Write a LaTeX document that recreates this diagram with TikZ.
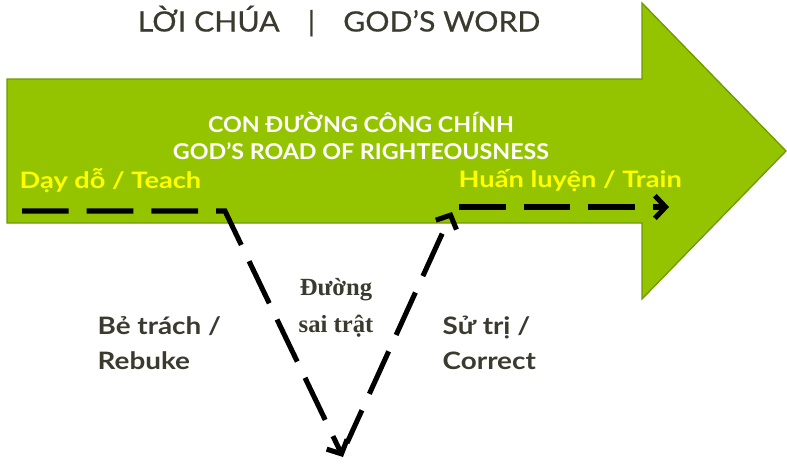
\documentclass[tikz,border=0pt]{standalone}
\usepackage{fontspec}
\setmainfont{Lato}
\newfontfamily\serifb{Liberation Serif}
\newfontfamily\titlefont[FakeStretch=1.08,FakeBold=0.6]{Lato}
\newfontfamily\roadfont[FakeStretch=1.07]{Lato}
\newfontfamily\stagefont[FakeStretch=1.2]{Lato}
\newfontfamily\labelfont[FakeStretch=1.16]{Lato}
\usetikzlibrary{arrows.meta}
\definecolor{leaf}{HTML}{94C400}
\definecolor{leafedge}{HTML}{6E9A00}
\definecolor{ink}{HTML}{3B3A2E}
\definecolor{hl}{HTML}{FFFF00}
\tikzset{
  dashline/.style={line width=3.8pt, dash pattern=on 35pt off 13.5pt},
  tip/.style={-{Straight Barb[length=8pt,width=17pt]}},
  labeltxt/.style={font=\labelfont\bfseries\fontsize{18}{26}\selectfont, text=ink, align=left, anchor=west},
  roadtxt/.style={font=\roadfont\bfseries\fontsize{16.3}{20.5}\selectfont, text=white, align=center},
  stagetxt/.style={font=\stagefont\bfseries\fontsize{17}{21}\selectfont, text=hl, anchor=west}
}
\begin{document}
\begin{tikzpicture}[x=0.75pt,y=-0.75pt]
\useasboundingbox (0,0) rectangle (787,464);
% big arrow
\draw[fill=leaf, draw=leafedge, line width=1pt]
  (7,79) -- (642,79) -- (642,3) -- (786,151) -- (642,299) -- (642,223) -- (7,223) -- cycle;
% title
\node[font=\titlefont\fontsize{21}{25}\selectfont, text=ink] (title) at (339,21) {LỜI CHÚA\quad|\quad GOD’S WORD};
% road text
\node[roadtxt] (road) at (361,136) {CON ĐƯỜNG CÔNG CHÍNH\\GOD’S ROAD OF RIGHTEOUSNESS};
\node[stagetxt] (teach) at (15,181) {Dạy dỗ / Teach};
\node[stagetxt] (train) at (454,181) {Huấn luyện / Train};
% side labels
\node[labeltxt] (rebuke) at (93,343) {Bẻ trách /\\Rebuke};
\node[labeltxt] (correct) at (438,343) {Sử trị /\\Correct};
\node[font=\serifb\bfseries\fontsize{18.5}{28}\selectfont, text=ink, align=center] (wrong) at (336,308) {Đường\\sai trật};
% path coordinates
\coordinate (a0) at (22,211);
\coordinate (a1) at (225,211);
\coordinate (a2) at (343,457);
\coordinate (b0) at (347,443);
\coordinate (b1) at (452,212);
\coordinate (c0) at (459,207);
\coordinate (c1) at (669,207);
\draw[dashline, tip] (a0) -- (a1) -- (a2);
\draw[dashline, tip, dash phase=8pt] (b0) -- (b1);
\draw[dashline, tip] (c0) -- (c1);
\end{tikzpicture}
\end{document}
